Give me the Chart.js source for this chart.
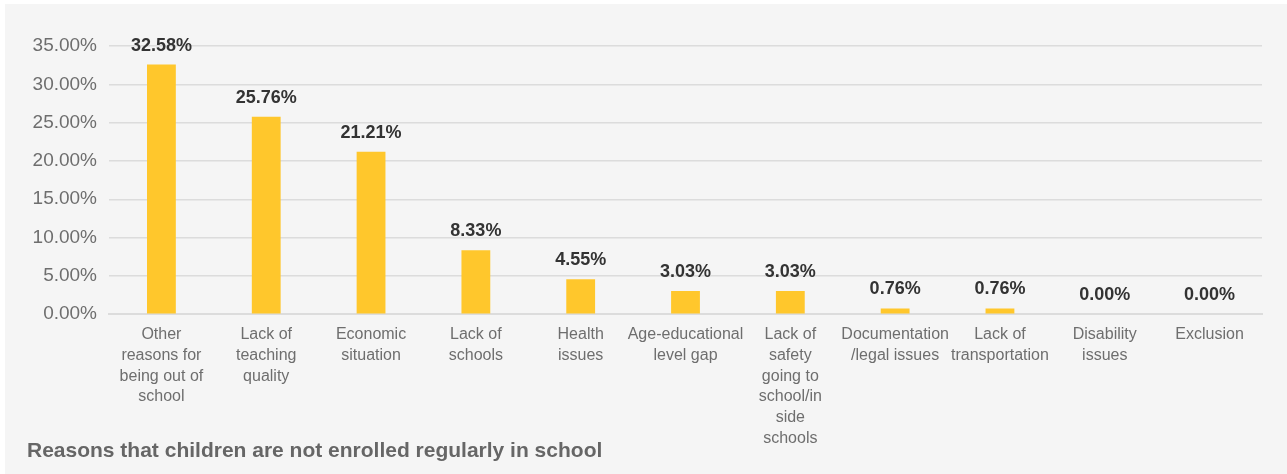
<!DOCTYPE html>
<html>
<head>
<meta charset="utf-8">
<script src="https://cdn.jsdelivr.net/npm/chart.js@4"></script>
<style>
  body { margin: 0; background: #ffffff; }
  #wrap { position: absolute; left: 5px; top: 4px; width: 1282px; height: 470px; background: #f5f5f5; }
  #chart01 { position: absolute; left: 0; top: 0; }
  #title { position: absolute; left: 22px; top: 434px; font: bold 21px "Liberation Sans", Arial, sans-serif; color: #666666; }
</style>
</head>
<body>
<div id="wrap">
  <canvas id="chart01" width="1282" height="470"></canvas>
  <div id="title">Reasons that children are not enrolled regularly in school</div>
</div>
<script>
// カテゴリ（複数行ラベル）
var categories = [
  ["Other", "reasons for", "being out of", "school"],
  ["Lack of", "teaching", "quality"],
  ["Economic", "situation"],
  ["Lack of", "schools"],
  ["Health", "issues"],
  ["Age-educational", "level gap"],
  ["Lack of", "safety", "going to", "school/in", "side", "schools"],
  ["Documentation", "/legal issues"],
  ["Lack of", "transportation"],
  ["Disability", "issues"],
  ["Exclusion"]
];
// 値（%）
var values = [32.58, 25.76, 21.21, 8.33, 4.55, 3.03, 3.03, 0.76, 0.76, 0.00, 0.00];
// 目盛り
var yTicks = [0, 5, 10, 15, 20, 25, 30, 35];

var fontFamily = '"Liberation Sans", Arial, sans-serif';

// 値をバーの上に表示
var valueLabels = {
  id: 'valueLabels',
  afterDatasetsDraw: function (chart) {
    var ctx = chart.ctx;
    chart.data.datasets.forEach(function (dataset, i) {
      var meta = chart.getDatasetMeta(i);
      if (meta.hidden) return;
      meta.data.forEach(function (element, index) {
        ctx.save();
        ctx.fillStyle = '#333333';
        ctx.font = 'bold 18px ' + fontFamily;
        ctx.textAlign = 'center';
        ctx.textBaseline = 'middle';
        var pos = element.tooltipPosition();
        ctx.fillText(dataset.data[index].toFixed(2) + '%', pos.x, pos.y - 19);
        ctx.restore();
      });
    });
  }
};

var ctx = document.getElementById('chart01');
var chart = new Chart(ctx, {
  type: 'bar',
  data: {
    labels: categories,
    datasets: [{
      data: values,
      backgroundColor: '#ffc72c',
      borderWidth: 0,
      categoryPercentage: 1,
      barPercentage: 0.275
    }]
  },
  options: {
    responsive: false,
    animation: false,
    layout: { padding: { left: 22, right: 25, top: 42, bottom: 15 } },
    plugins: {
      legend: { display: false },
      tooltip: { enabled: false }
    },
    scales: {
      x: {
        grid: { display: false, drawTicks: false },
        border: { color: '#dcdcdc', width: 2 },
        ticks: {
          color: '#6e6e6e',
          padding: 10,
          maxRotation: 0,
          autoSkip: false,
          font: { family: fontFamily, size: 16, lineHeight: 1.3 }
        }
      },
      y: {
        min: 0,
        max: 35,
        afterFit: function (scale) { scale.width = 82; },
        afterBuildTicks: function (scale) {
          scale.ticks = yTicks.map(function (v) { return { value: v }; });
        },
        grid: { color: '#dcdcdc', lineWidth: 1.5, drawTicks: false },
        border: { display: false },
        ticks: {
          color: '#6e6e6e',
          padding: 12,
          font: { family: fontFamily, size: 19 },
          callback: function (v) { return v.toFixed(2) + '%'; }
        }
      }
    }
  },
  plugins: [valueLabels]
});
</script>
</body>
</html>
